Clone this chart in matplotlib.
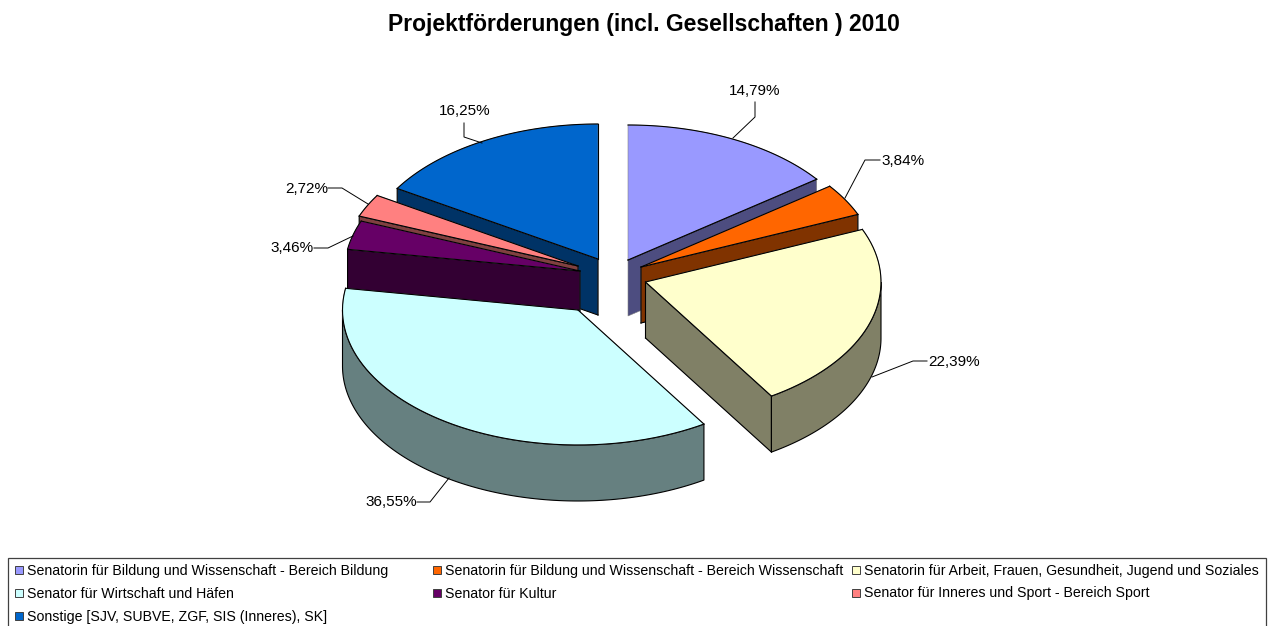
import numpy as np
import matplotlib
matplotlib.use("Agg")
import matplotlib.pyplot as plt
from matplotlib.patches import Polygon, Rectangle

plt.rcParams['font.family'] = ['Liberation Sans', 'DejaVu Sans']

# ---- data ----
title = "Projektförderungen (incl. Gesellschaften ) 2010"
categories = [
    "Senatorin für Bildung und Wissenschaft - Bereich Bildung",
    "Senatorin für Bildung und Wissenschaft - Bereich Wissenschaft",
    "Senatorin für Arbeit, Frauen, Gesundheit, Jugend und Soziales",
    "Senator für Wirtschaft und Häfen",
    "Senator für Kultur",
    "Senator für Inneres und Sport - Bereich Sport",
    "Sonstige [SJV, SUBVE, ZGF, SIS (Inneres), SK]",
]
values = [14.79, 3.84, 22.39, 36.55, 3.46, 2.72, 16.25]
colors = ["#9999FF", "#FF6600", "#FFFFCC", "#CCFFFF", "#660066", "#FF8080", "#0066CC"]
side_colors = ["#4D4D80", "#803300", "#808066", "#668080", "#330033", "#804040", "#003366"]

# ---- layout (pixels) ----
apex_x = [628, 641, 645.5, 578, 580, 578, 598]
apex_y = [260, 267, 282, 310, 271, 266, 259]
RX, RY, DEPTH = 235.5, 135, 56
draw_order = [6, 5, 4, 0, 1, 2, 3]
label_text_x = [755, 881, 928, 417, 314, 328, 465]
label_text_y = [91, 161, 362, 502, 248, 189, 111]
label_ha = ["center", "left", "left", "right", "right", "right", "center"]
leaders_x = [[755, 755, 733], [880, 865, 845], [927, 913, 872], [417, 430, 449],
             [314, 328, 353], [328, 342, 368], [464, 464, 482]]
leaders_y = [[102, 117, 138], [160, 160, 198], [361, 361, 377], [502, 502, 478],
             [248, 248, 236], [188, 188, 204], [123, 137, 143]]

fig = plt.figure(figsize=(12.7, 6.26), dpi=100)
ax = fig.add_axes([0, 0, 1, 1])
ax.set_xlim(0, 1270)
ax.set_ylim(626, 0)
ax.axis("off")

ax.text(644, 24, title, ha="center", va="center", fontsize=16.5, fontweight="bold", color="black")

edges = np.concatenate([[0], np.cumsum(values)]) / sum(values) * 360.0
LW = 0.8


def arc(cx, cy, a, b, dy=0.0):
    t = np.radians(np.linspace(a, b, max(int(abs(b - a) * 2), 2)))
    return np.column_stack([cx + RX * np.sin(t), cy - RY * np.cos(t) + dy])


def point(cx, cy, a, dy=0.0):
    return arc(cx, cy, a, a, dy)[0]


def at_top(a):
    return abs(a % 360) < 1e-6


def face(i, cx, cy, a, other):
    p = point(cx, cy, a)
    q = np.array([cx, cy])
    pts = [q, p, p + [0, DEPTH], q + [0, DEPTH]]
    ax.add_patch(Polygon(pts, closed=True, fc=side_colors[i], ec="#808080", lw=0.4, zorder=10 + z))
    if at_top(other):
        ax.plot([q[0], p[0]], [q[1], p[1]], color="black", lw=LW, zorder=10 + z)
    else:
        ax.plot([q[0], q[0], p[0], p[0]], [q[1] + DEPTH, q[1], p[1], p[1] + DEPTH],
                color="black", lw=LW, zorder=10 + z)
        ax.plot([q[0], p[0]], [q[1] + DEPTH, p[1] + DEPTH], color="black", lw=LW, zorder=10 + z)


for z, i in enumerate(draw_order):
    a, b = edges[i], edges[i + 1]
    cx, cy = apex_x[i], apex_y[i]
    # cut faces that look at the viewer
    if 180 < a < 360:
        face(i, cx, cy, a, b)
    if 0 < b < 180:
        face(i, cx, cy, b, a)
    # outer wall, front half only
    lo, hi = max(a, 90), min(b, 270)
    if hi > lo:
        top_arc = arc(cx, cy, lo, hi)
        bot_arc = arc(cx, cy, lo, hi, DEPTH)
        ax.add_patch(Polygon(np.vstack([top_arc, bot_arc[::-1]]), closed=True,
                             fc=side_colors[i], ec="black", lw=LW, zorder=10 + z))
    # top surface
    outline = np.vstack([[[cx, cy]], arc(cx, cy, a, b)])
    ax.add_patch(Polygon(outline, closed=True, fc=colors[i], ec="#808080", lw=0.4, zorder=10 + z))
    ax.plot(*arc(cx, cy, a, b).T, color="black", lw=LW, zorder=10 + z)
    for e in (a, b):
        if not at_top(e):
            p = point(cx, cy, e)
            ax.plot([cx, p[0]], [cy, p[1]], color="black", lw=LW, zorder=10 + z)

# data labels and leaders
for i, v in enumerate(values):
    ax.plot(leaders_x[i], leaders_y[i], color="black", lw=0.7, zorder=40)
    ax.text(label_text_x[i], label_text_y[i], f"{v:.2f}%".replace(".", ","),
            ha=label_ha[i], va="center", fontsize=11, color="black", zorder=41)

# legend
ax.add_patch(Rectangle((8, 558), 1258, 70, fc="white", ec="#404040", lw=0.9, clip_on=False, zorder=50))
col_x = [15, 433, 852]
row_y = [570, 593, 616]
for i, name in enumerate(categories):
    r, c = divmod(i, 3)
    ax.add_patch(Rectangle((col_x[c], row_y[r] - 4), 8, 8, fc=colors[i], ec="#404040", lw=0.7, zorder=51))
    ax.text(col_x[c] + 12, row_y[r] + 0.5, name, ha="left", va="center", fontsize=10.15, color="black", zorder=51)

fig.savefig("out.png", dpi=100, facecolor="white")
